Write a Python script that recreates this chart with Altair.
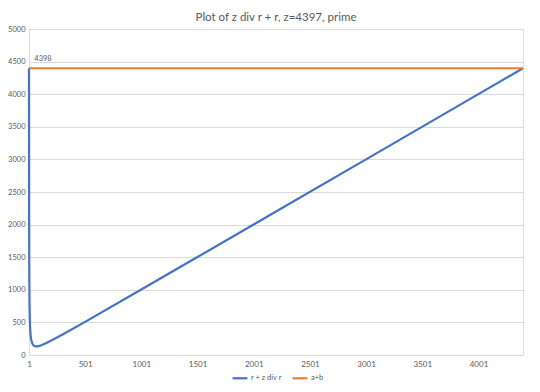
import altair as alt
import pandas as pd

# r values and y = z div r + r
r_vals = [1, 2, 3, 4, 5, 6, 8, 10, 15, 20, 30, 40, 50, 60, 66, 70, 80, 100, 150,
          200, 300, 500, 1000, 1500, 2000, 2199, 3000, 4000, 4397]
y_vals = [4398, 2200, 1468, 1103, 884, 738, 557, 449, 308, 239, 176, 149, 137, 133,
          132, 132, 134, 143, 179, 221, 314, 508, 1004, 1502, 2002, 2200, 3001, 4001, 4398]
ab_r = [1, 4397]
ab_y = [4398, 4398]
x_ticks = [1, 501, 1001, 1501, 2001, 2501, 3001, 3501, 4001]
y_ticks = [0, 500, 1000, 1500, 2000, 2500, 3000, 3500, 4000, 4500, 5000]
series_names = ["r + z div r", "a+b"]

rows = [{"r": r, "v": v, "s": series_names[0]} for r, v in zip(r_vals, y_vals)]
rows += [{"r": r, "v": v, "s": series_names[1]} for r, v in zip(ab_r, ab_y)]
df = pd.DataFrame(rows)
lab = pd.DataFrame({"r": [ab_r[0]], "v": [ab_y[0]], "t": [str(ab_y[0])]})

FONT = "Lato"
GREY = "#595959"

x = alt.X("r:Q", scale=alt.Scale(domain=[1, 4397], nice=False, zero=False),
          axis=alt.Axis(values=x_ticks, tickCount=20, format="d", title=None, grid=False,
                        ticks=False, domainColor="#D9D9D9", labelColor=GREY, labelFont=FONT,
                        labelFontSize=8, labelPadding=5, labelFlush=False))
y = alt.Y("v:Q", scale=alt.Scale(domain=[0, 5000], nice=False),
          axis=alt.Axis(values=y_ticks, tickCount=20, format="d", title=None, grid=True,
                        gridColor="#D9D9D9", ticks=False, domain=False, labelColor=GREY,
                        labelFont=FONT, labelFontSize=7.5, labelPadding=4, labelOverlap=False))

lines = alt.Chart(df).mark_line(strokeWidth=2.2).encode(
    x=x, y=y,
    color=alt.Color("s:N", scale=alt.Scale(domain=series_names, range=["#4472C4", "#ED7D31"]),
                    sort=series_names,
                    legend=alt.Legend(title=None, orient="none", direction="horizontal",
                                      legendX=202, legendY=340, symbolType="stroke",
                                      symbolStrokeWidth=2.2, symbolSize=220,
                                      labelFont=FONT, labelFontSize=7.5, labelColor=GREY,
                                      columnPadding=6, labelOffset=2)),
    order=alt.Order("r:Q"),
    detail="s:N",
)

text = alt.Chart(lab).mark_text(dx=14, dy=-9, font=FONT, fontSize=7.5, color=GREY).encode(
    x=alt.X("r:Q"), y=alt.Y("v:Q"), text="t:N")

chart = alt.layer(lines, text).properties(
    width=494, height=326,
    autosize=alt.AutoSizeParams(type="none"),
    padding={"left": 21, "top": 21, "right": 9, "bottom": 29},
    title=alt.Title("Plot of z div r + r, z=4397, prime", font=FONT, fontSize=11.5,
                    fontWeight="normal", color=GREY, offset=2, anchor="middle"),
).configure_view(stroke=None).configure(background="white")

chart.save("out.html", embed_options={"renderer": "svg", "actions": False})
